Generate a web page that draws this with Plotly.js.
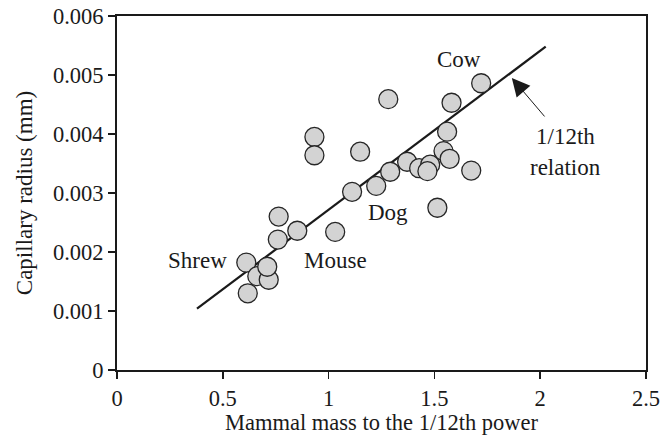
<!DOCTYPE html>
<html>
<head>
<meta charset="utf-8">
<script src="https://cdn.plot.ly/plotly-3.0.1.min.js"></script>
<style>html,body{margin:0;padding:0;background:#fff;} #chart{width:660px;height:435px;}</style>
</head>
<body>
<div id="chart"></div>
<script>
// Mammal data: mass^(1/12) vs capillary radius (mm)
const massPow = [0.611, 0.618, 0.663, 0.717, 0.710, 0.760, 0.764, 0.852, 0.933, 0.933,
                 1.031, 1.111, 1.149, 1.225, 1.282, 1.291, 1.371, 1.428, 1.480, 1.467,
                 1.514, 1.543, 1.572, 1.560, 1.581, 1.674, 1.721];
const capRadius = [0.00182, 0.00130, 0.00159, 0.00153, 0.00175, 0.00221, 0.00260, 0.00236, 0.00395, 0.00364,
                   0.00234, 0.00302, 0.00370, 0.00312, 0.00459, 0.00336, 0.00353, 0.00342, 0.00348, 0.00337,
                   0.00275, 0.00371, 0.00358, 0.00404, 0.00453, 0.00338, 0.00486];
// 1/12th relation line endpoints
const relX = [0.378, 2.026];
const relY = [0.00104, 0.00548];
// labels
const labelText = ["Cow", "Dog", "Shrew", "Mouse", "1/12th", "relation"];
const labelX = [1.617, 1.282, 0.379, 1.031, 2.120, 2.120];
const labelY = [0.00527, 0.00267, 0.00185, 0.00185, 0.00395, 0.00343];
// arrow tip
const arrowTip = [1.866, 0.00495];
const xTicks = [0, 0.5, 1, 1.5, 2, 2.5];
const xTickText = ["0", "0.5", "1", "1.5", "2", "2.5"];
const yTicks = [0, 0.001, 0.002, 0.003, 0.004, 0.005, 0.006];
const yTickText = ["0", "0.001", "0.002", "0.003", "0.004", "0.005", "0.006"];

const FONT = "Liberation Serif, Times New Roman, serif";
const INK = "#1a1a1a";
const FS = 23;
const TFS = 22.5;

const traces = [
  {x: relX, y: relY, mode: "lines", line: {color: INK, width: 2.2}, hoverinfo: "skip", showlegend: false},
  {x: massPow, y: capRadius, mode: "markers", showlegend: false,
   marker: {size: 19, color: "#d3d3d3", line: {color: "#262626", width: 1.3}}}
];

const annotations = labelText.map((t, i) => ({
  x: labelX[i], y: labelY[i], text: t, showarrow: false,
  xanchor: "center", yanchor: "middle", font: {family: FONT, size: FS, color: INK}
}));
annotations.push({
  x: arrowTip[0], y: arrowTip[1], text: "", showarrow: true,
  ax: 34, ay: 40, arrowhead: 2, arrowsize: 3.6, arrowwidth: 1, arrowcolor: INK
});

const axisCommon = {
  showgrid: false, zeroline: false, showline: true, mirror: true,
  linecolor: INK, linewidth: 2, ticks: "outside", ticklen: 7, tickwidth: 1.5, tickcolor: INK,
  tickfont: {family: FONT, size: TFS, color: INK}, ticklabeloverflow: "allow"
};

const layout = {
  width: 660, height: 435,
  margin: {l: 117, r: 14, t: 16, b: 65},
  paper_bgcolor: "#fff", plot_bgcolor: "#fff",
  font: {family: FONT, color: INK},
  xaxis: Object.assign({}, axisCommon, {
    range: [0, 2.5], tickvals: xTicks, ticktext: xTickText,
    title: {text: "Mammal mass to the 1/12th power", font: {family: FONT, size: 22.5, color: INK}, standoff: 7}
  }),
  yaxis: Object.assign({}, axisCommon, {
    range: [0, 0.006], tickvals: yTicks, ticktext: yTickText,
    title: {text: "Capillary radius (mm)", font: {family: FONT, size: FS, color: INK}, standoff: 14}
  }),
  annotations: annotations
};

Plotly.newPlot("chart", traces, layout, {staticPlot: true, displayModeBar: false});
</script>
</body>
</html>
